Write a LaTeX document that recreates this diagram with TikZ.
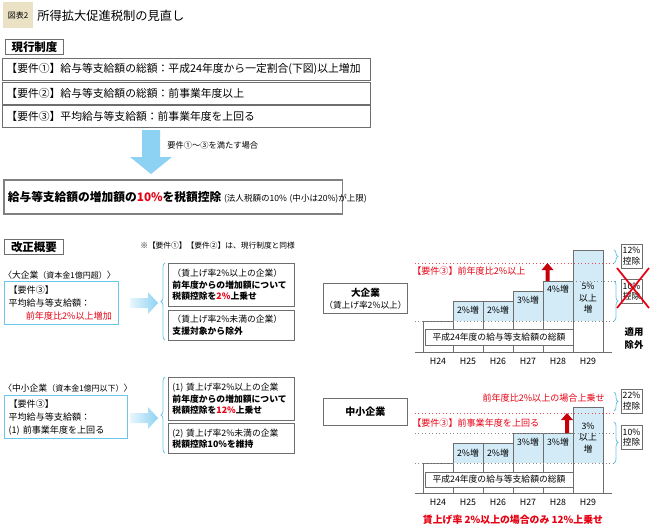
\documentclass[tikz,border=0pt]{standalone}
\usepackage{fontspec}
\setmainfont{Noto Sans CJK JP}
\usetikzlibrary{decorations.pathreplacing}
\definecolor{beige}{HTML}{EBE2C6}
\definecolor{bgray}{HTML}{6E6E6E}
\definecolor{ablue}{HTML}{8DD2F3}
\definecolor{bblue}{HTML}{6CC6EC}
\definecolor{barblue}{HTML}{D2EBF7}
\definecolor{jred}{HTML}{E60012}
\definecolor{darkred}{HTML}{C8000A}
\definecolor{lgray}{HTML}{8A8A8A}
\newcommand{\fsz}[2]{\fontsize{#1}{#2}\selectfont}
\tikzset{
  gbox/.style={draw=bgray, line width=0.7pt, fill=white, anchor=north west, inner xsep=3pt, inner ysep=0pt, align=left},
  bbox/.style={draw=bblue, line width=0.9pt, fill=white, anchor=north west, inner xsep=3pt, inner ysep=0pt, align=left},
  barline/.style={draw=bgray, line width=0.6pt},
  dotg/.style={lgray, dotted, line width=0.6pt},
  dotr/.style={jred!70, dotted, line width=0.6pt},
  brc/.style={decorate, decoration={brace, amplitude=3pt}, draw=bblue, line width=0.6pt},
  lbl/.style={font=\fsz{6.6}{8}, inner sep=0pt},
  pbox/.style={draw=bgray, line width=0.6pt, fill=white, anchor=center, align=center, minimum width=15.75pt, minimum height=18pt, inner sep=0pt, font=\fsz{6.5}{8}},
}
\begin{document}
\begin{tikzpicture}[x=0.75pt,y=-0.75pt]
\useasboundingbox (0,0) rectangle (650,526);
% ---------- title
\node[fill=beige, minimum width=22.5pt, minimum height=19.5pt, inner sep=0pt, font=\fsz{6}{7}] (fig) at (18,15) {図表2};
\node[anchor=west, font=\fsz{9.2}{11}, inner sep=0pt] (title) at (37,16) {所得拡大促進税制の見直し};
% ---------- current system
\node[gbox, align=center, inner xsep=0pt, minimum width=43.5pt, minimum height=11.25pt, font=\bfseries\fsz{8.6}{10}] (genko) at (5,39) {現行制度};
\node[gbox, minimum width=276pt, minimum height=16.5pt, text width=270pt, font=\fsz{8.1}{10}] (r1) at (2,58) {【要件①】給与等支給額の総額：平成24年度から一定割合(下図)以上増加};
\node[gbox, minimum width=276pt, minimum height=16.5pt, text width=270pt, font=\fsz{8.1}{10}] (r2) at (2,82) {【要件②】給与等支給額の総額：前事業年度以上};
\node[gbox, minimum width=276pt, minimum height=16.5pt, text width=270pt, font=\fsz{8.1}{10}] (r3) at (2,105) {【要件③】平均給与等支給額：前事業年度を上回る};
% down arrow
\fill[ablue] (142,130) -- (160,130) -- (160,157) -- (172,157) -- (151,174) -- (130,157) -- (142,157) -- cycle;
\node[anchor=west, font=\fsz{6.2}{8}, inner sep=0pt] (cond) at (167,145) {要件①～③を満たす場合};
% result
\node[gbox, draw=gray, line width=1.2pt, minimum width=254pt, minimum height=25.5pt, text width=248pt] (res) at (3,179) {\mbox{{\bfseries\fsz{8.8}{11}給与等支給額の増加額の\textcolor{jred}{10\%}を税額控除}{\fsz{6.4}{8}\kern2pt(法人税額の10\%\kern2pt(中小は20\%)が上限)}}};
% ---------- revision
\node[gbox, align=center, inner xsep=0pt, minimum width=44.25pt, minimum height=11.25pt, font=\bfseries\fsz{8.6}{10}] (kaisei) at (4,239) {改正概要};
\node[anchor=west, font=\fsz{5.8}{7}, inner sep=0pt] (note) at (140,246) {※【要件①】【要件②】は、現行制度と同様};
% large companies
\node[anchor=west, inner sep=0pt] (bigT) at (3,275) {\fsz{6.6}{8}〈大企業\fsz{6}{8}（資本金1億円超）\fsz{6.6}{8}〉};
\node[bbox, minimum width=85.5pt, minimum height=32.25pt, text width=79.5pt, font=\fsz{6.8}{9.75}] (bigreq) at (4,281) {【要件③】\\平均給与等支給額：\\\hspace*{13pt}\textcolor{jred}{前年度比2\%以上増加}};
\shade[left color=ablue!20, right color=ablue] (130,298) -- (148,298) -- (148,292) -- (158,303) -- (148,314) -- (148,308) -- (130,308) -- cycle;
\draw[brc] (165,340) -- (165,263);
\node[gbox, minimum width=94.5pt, minimum height=32.25pt, text width=88.5pt, font=\fsz{6.6}{8.6}] (bA) at (168,263) {（賃上げ率2\%以上の企業）\\\textbf{前年度からの増加額について}\\\textbf{税額控除を\textcolor{jred}{2\%}上乗せ}};
\node[gbox, minimum width=94.5pt, minimum height=22.5pt, text width=88.5pt, font=\fsz{6.6}{9}] (bB) at (168,310) {（賃上げ率2\%未満の企業）\\\textbf{支援対象から除外}};
% small companies
\node[anchor=west, inner sep=0pt] (smT) at (3,388) {\fsz{6.6}{8}〈中小企業\fsz{6}{8}（資本金1億円以下）\fsz{6.6}{8}〉};
\node[bbox, minimum width=92.25pt, minimum height=32.25pt, text width=86.25pt, font=\fsz{6.8}{9.75}] (smreq) at (4,395) {【要件③】\\平均給与等支給額：\\(1) 前事業年度を上回る};
\shade[left color=ablue!20, right color=ablue] (130,413) -- (148,413) -- (148,407) -- (158,418) -- (148,429) -- (148,423) -- (130,423) -- cycle;
\draw[brc] (165,453) -- (165,377);
\node[gbox, minimum width=94.5pt, minimum height=32.25pt, text width=88.5pt, font=\fsz{6.6}{8.6}] (bC) at (168,377) {(1) 賃上げ率2\%以上の企業\\\textbf{前年度からの増加額について}\\\textbf{税額控除を\textcolor{jred}{12\%}上乗せ}};
\node[gbox, minimum width=94.5pt, minimum height=22.5pt, text width=88.5pt, font=\fsz{6.6}{8.6}] (bD) at (168,423) {(2) 賃上げ率2\%未満の企業\\\textbf{税額控除10\%を維持}};
% ---------- chart: large companies
\node[gbox, align=center, inner xsep=0pt, minimum width=63pt, minimum height=22.5pt, font=\fsz{6.5}{9}] (bigL) at (323,283) {{\bfseries\fsz{7.2}{9}大企業}\\（賃上げ率2\%以上）};
\foreach \i/\t in {1/301,2/301,3/291,4/281,5/250} {
  \fill[barblue] ({423+30*\i},\t) rectangle ({453+30*\i},321);
}
\foreach \i/\t in {0/321,1/301,2/301,3/291,4/281,5/250} {
  \draw[barline] ({423+30*\i},352) rectangle ({453+30*\i},\t);
}
\draw[barline] (415,352) -- (612,352);
\draw[dotg] (415,321) -- (615,321);
\draw[dotg] (573,281) -- (615,281);
\draw[dotr] (415,263) -- (615,263);
\node[draw=bgray, line width=0.6pt, fill=white, minimum width=111pt, minimum height=12pt, inner sep=0pt, font=\fsz{6.6}{8}] (base1) at (499,337) {平成24年度の給与等支給額の総額};
\node[anchor=west, text=jred, font=\fsz{6.8}{8}, inner sep=0pt] (req3a) at (412,271) {【要件③】前年度比2\%以上};
\fill[darkred] (545.5,281) -- (545.5,270) -- (541.5,270) -- (547.5,263) -- (553.5,270) -- (549.5,270) -- (549.5,281) -- cycle;
\node[lbl] (b25) at (468,310) {2\%増};
\node[lbl] (b26) at (498,310) {2\%増};
\node[lbl] (b27) at (528,300) {3\%増};
\node[lbl] (b28) at (558,289) {4\%増};
\node[lbl, align=center, font=\fsz{6.6}{8.6}] (b29) at (588,298.5) {5\%\\以上\\増};
\foreach \i/\y in {0/24,1/25,2/26,3/27,4/28,5/29} {
  \node[lbl] (ya\y) at ({438+30*\i},361) {H\y};
}
\draw[brc] (614,250) -- (614,263);
\draw[brc] (614,281) -- (614,321);
\node[pbox] (p12) at (631.5,256) {12\%\\控除};
\node[pbox] (p10a) at (631.5,291.5) {10\%\\控除};
\draw[jred, line width=1.3pt] (617,268) -- (649,308) (617,308) -- (649,268);
\node[font=\bfseries\fsz{7}{9.75}, align=center, inner sep=0pt] (tekiyo) at (634,338) {適用\\除外};
% ---------- chart: small companies
\node[gbox, align=center, inner xsep=0pt, minimum width=63pt, minimum height=20.25pt, font=\bfseries\fsz{7.5}{9}] (smL) at (323,398) {中小企業};
\foreach \i/\t in {1/443,2/443,3/433,4/433,5/407} {
  \fill[barblue] ({423+30*\i},\t) rectangle ({453+30*\i},463);
}
\foreach \i/\t in {0/463,1/443,2/443,3/433,4/433,5/407} {
  \draw[barline] ({423+30*\i},493) rectangle ({453+30*\i},\t);
}
\draw[barline] (415,493) -- (612,493);
\draw[dotg] (415,463) -- (615,463);
\draw[dotg] (415,433) -- (615,433);
\draw[dotr] (415,413) -- (615,413);
\node[draw=bgray, line width=0.6pt, fill=white, minimum width=111pt, minimum height=11.25pt, inner sep=0pt, font=\fsz{6.6}{8}] (base2) at (499,479.5) {平成24年度の給与等支給額の総額};
\node[anchor=east, text=jred, font=\fsz{6.8}{8}, inner sep=0pt] (upper) at (605,398) {前年度比2\%以上の場合上乗せ};
\node[anchor=west, text=jred, font=\fsz{6.8}{8}, inner sep=0pt] (req3b) at (412,423) {【要件③】前事業年度を上回る};
\fill[darkred] (565,433) -- (565,420) -- (561,420) -- (567,413) -- (573,420) -- (569,420) -- (569,433) -- cycle;
\node[lbl] (c25) at (468,453) {2\%増};
\node[lbl] (c26) at (498,453) {2\%増};
\node[lbl] (c27) at (528,442) {3\%増};
\node[lbl] (c28) at (558,442) {3\%増};
\node[lbl, align=center, font=\fsz{6.6}{8.3}] (c29) at (588,438) {3\%\\以上\\増};
\foreach \i/\y in {0/24,1/25,2/26,3/27,4/28,5/29} {
  \node[lbl] (yb\y) at ({438+30*\i},502) {H\y};
}
\draw[brc] (614,392) -- (614,411);
\draw[brc] (614,422) -- (614,463);
\node[pbox] (p22) at (631.5,401) {22\%\\控除};
\node[pbox] (p10b) at (631.5,437.5) {10\%\\控除};
\node[text=jred, font=\bfseries\fsz{7.4}{9}, inner sep=0pt] (bottom) at (513,520) {賃上げ率 2\%以上の場合のみ 12\%上乗せ};
\end{tikzpicture}
\end{document}
